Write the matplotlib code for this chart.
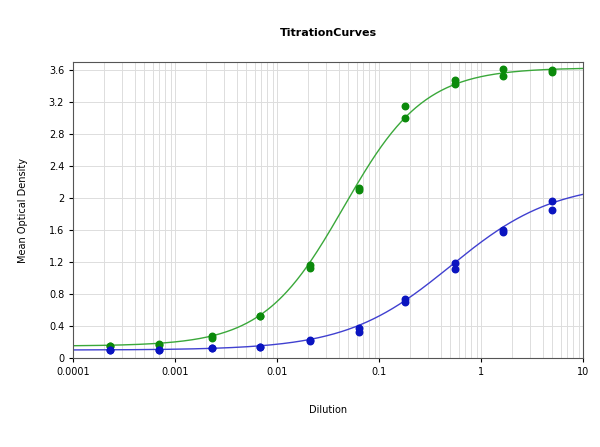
import numpy as np
import matplotlib
matplotlib.use("Agg")
import matplotlib.pyplot as plt
from matplotlib.ticker import FixedLocator, FixedFormatter, LogLocator, NullFormatter

dilution = [0.00023, 0.0007, 0.0023, 0.0068, 0.021, 0.063, 0.18, 0.55, 1.65, 4.95]
green_a = [0.15, 0.17, 0.28, 0.52, 1.16, 2.12, 3.15, 3.48, 3.62, 3.60]
green_b = [0.15, 0.16, 0.25, 0.53, 1.12, 2.10, 3.00, 3.43, 3.53, 3.58]
blue_a = [0.10, 0.10, 0.12, 0.14, 0.21, 0.38, 0.74, 1.19, 1.60, 1.96]
blue_b = [0.10, 0.10, 0.12, 0.14, 0.22, 0.33, 0.70, 1.11, 1.58, 1.85]
# 4PL fit parameters: bottom, top, ec50, hill
green_fit = (0.15, 3.63, 0.045, 1.1)
blue_fit = (0.10, 2.2, 0.5, 0.85)
xticks = [0.0001, 0.001, 0.01, 0.1, 1, 10]
xticklabels = ["0.0001", "0.001", "0.01", "0.1", "1", "10"]
yticks = [0, 0.4, 0.8, 1.2, 1.6, 2, 2.4, 2.8, 3.2, 3.6]
yticklabels = ["0", "0.4", "0.8", "1.2", "1.6", "2", "2.4", "2.8", "3.2", "3.6"]

def fpl(x, p):
    b, t, c, h = p
    return b + (t - b) / (1 + (c / x) ** h)

fig = plt.figure(figsize=(6, 4.47), dpi=100)
ax = fig.add_axes([0.122, 0.199, 0.850, 0.662])
ax.set_xscale("log")
xs = np.logspace(-4, 1, 400)
ax.plot(xs, fpl(xs, green_fit), color="#3aa83a", lw=1)
ax.plot(xs, fpl(xs, blue_fit), color="#4040d0", lw=1)
for ys in (green_a, green_b):
    ax.scatter(dilution, ys, color="#0b8a0b", s=22, zorder=3)
for ys in (blue_a, blue_b):
    ax.scatter(dilution, ys, color="#0a14c0", s=22, zorder=3)
ax.set_xlim(0.0001, 10)
ax.set_ylim(0, 3.7)
ax.xaxis.set_major_locator(FixedLocator(xticks))
ax.xaxis.set_major_formatter(FixedFormatter(xticklabels))
ax.xaxis.set_minor_locator(LogLocator(base=10, subs=np.arange(2, 10)))
ax.xaxis.set_minor_formatter(NullFormatter())
ax.set_yticks(yticks)
ax.set_yticklabels(yticklabels)
ax.grid(True, which="both", color="#dddddd", lw=0.7)
ax.tick_params(labelsize=7, length=3)
ax.tick_params(which="minor", length=0)
for s in ax.spines.values():
    s.set_color("#555555")
fig.text(0.547, 0.92, "TitrationCurves", ha="center", fontsize=8, fontweight="bold")
fig.text(0.547, 0.075, "Dilution", ha="center", fontsize=7)
fig.text(0.03, 0.53, "Mean Optical Density", va="center", rotation=90, fontsize=7)
fig.savefig("out.png", dpi=100)
